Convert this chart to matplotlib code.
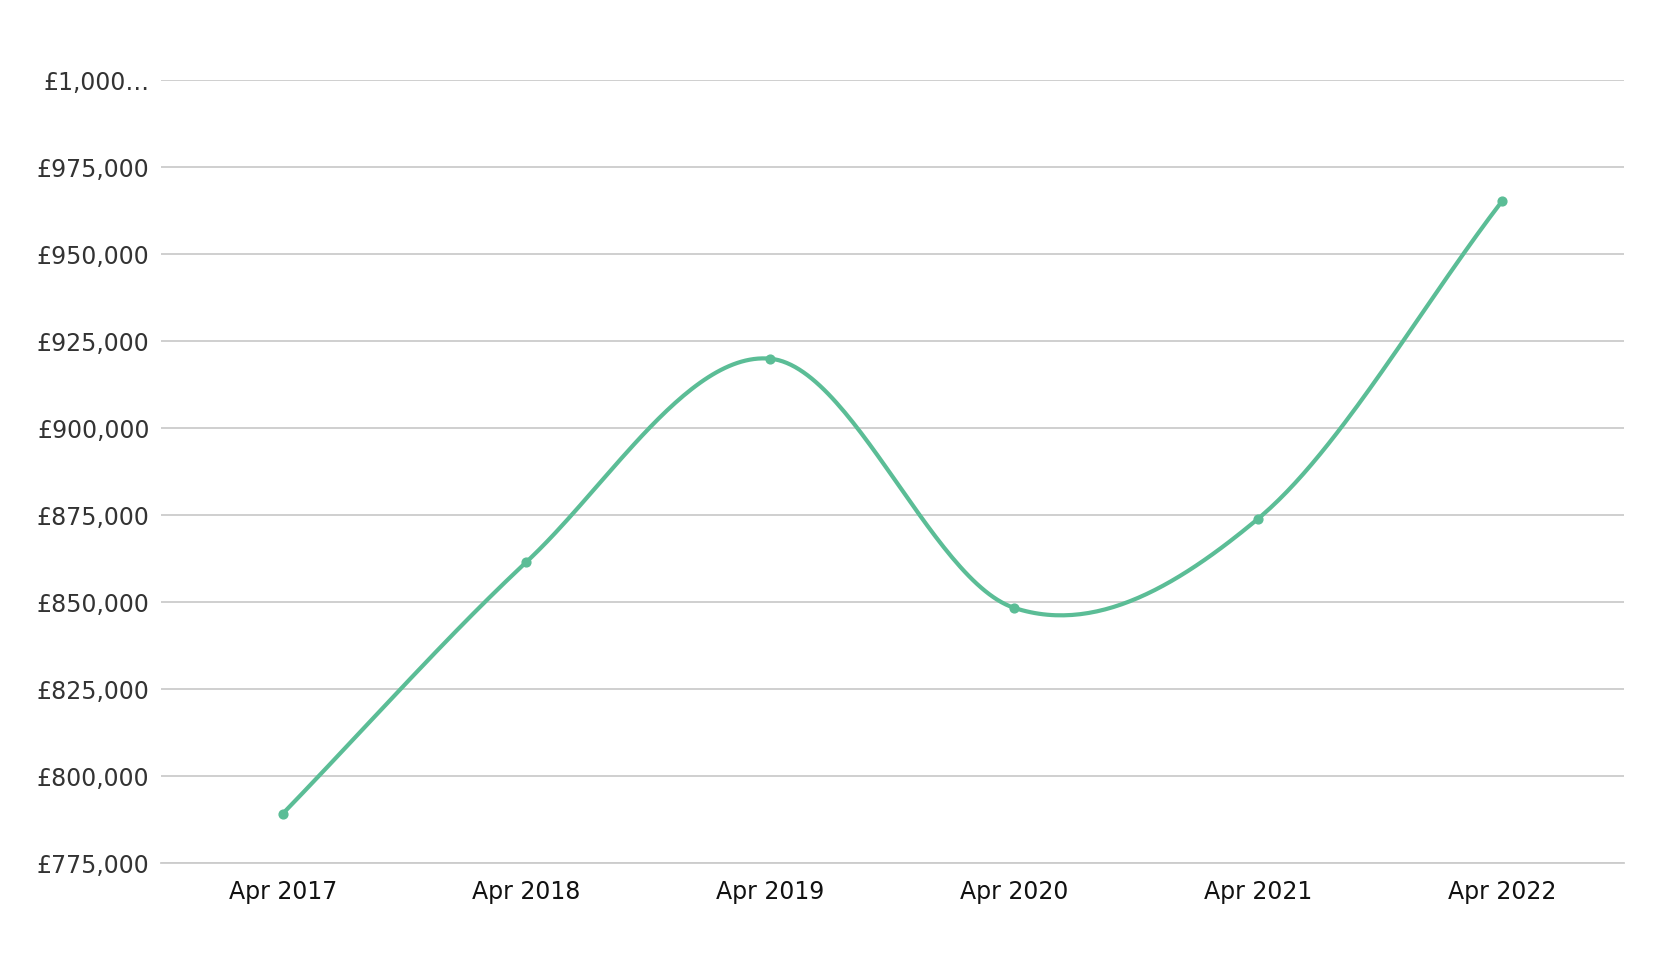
import numpy as np
import matplotlib
matplotlib.use("Agg")
import matplotlib.pyplot as plt

labels = ["Apr 2017", "Apr 2018", "Apr 2019", "Apr 2020", "Apr 2021", "Apr 2022"]
values = [789200, 861600, 920000, 848400, 874000, 965200]
yticks = [775000, 800000, 825000, 850000, 875000, 900000, 925000, 950000, 975000, 1000000]
ytick_labels = ["£775,000", "£800,000", "£825,000", "£850,000", "£875,000", "£900,000",
                "£925,000", "£950,000", "£975,000", "£1,000…"]

def catmull_rom(x, y, n=60):
    x = np.asarray(x, float); y = np.asarray(y, float)
    px = np.concatenate([[2*x[0]-x[1]], x, [2*x[-1]-x[-2]]])
    py = np.concatenate([[2*y[0]-y[1]], y, [2*y[-1]-y[-2]]])
    xs, ys = [], []
    t = np.linspace(0, 1, n)
    for i in range(1, len(px)-2):
        for p, out in ((px, xs), (py, ys)):
            p0, p1, p2, p3 = p[i-1], p[i], p[i+1], p[i+2]
            out.extend(0.5*((2*p1) + (-p0+p2)*t + (2*p0-5*p1+4*p2-p3)*t**2 + (-p0+3*p1-3*p2+p3)*t**3))
    return np.array(xs), np.array(ys)

fig = plt.figure(figsize=(16.74, 9.56), dpi=100)
ax = fig.add_axes([0.096, 0.097, 0.874, 0.819])
xi = np.arange(len(labels))
sx, sy = catmull_rom(xi, values)
color = "#5bbd96"
ax.plot(sx, sy, color=color, lw=3, solid_capstyle="round")
ax.scatter(xi, values, color=color, s=40, zorder=3)
ax.set_xlim(-0.5, len(labels)-0.5)
ax.set_ylim(775000, 1000000)
ax.set_yticks(yticks)
ax.set_yticklabels(ytick_labels)
ax.set_xticks(xi)
ax.set_xticklabels(labels)
ax.grid(axis="y", color="#cccccc", lw=1.3)
ax.set_axisbelow(True)
for s in ["top", "right", "left"]:
    ax.spines[s].set_visible(False)
ax.spines["bottom"].set_color("#cccccc")
ax.spines["bottom"].set_linewidth(1.3)
ax.tick_params(length=0, labelsize=17, colors="#333333", pad=8)
ax.tick_params(axis="x", pad=12, colors="#111111")
plt.savefig("out.png", dpi=100)
